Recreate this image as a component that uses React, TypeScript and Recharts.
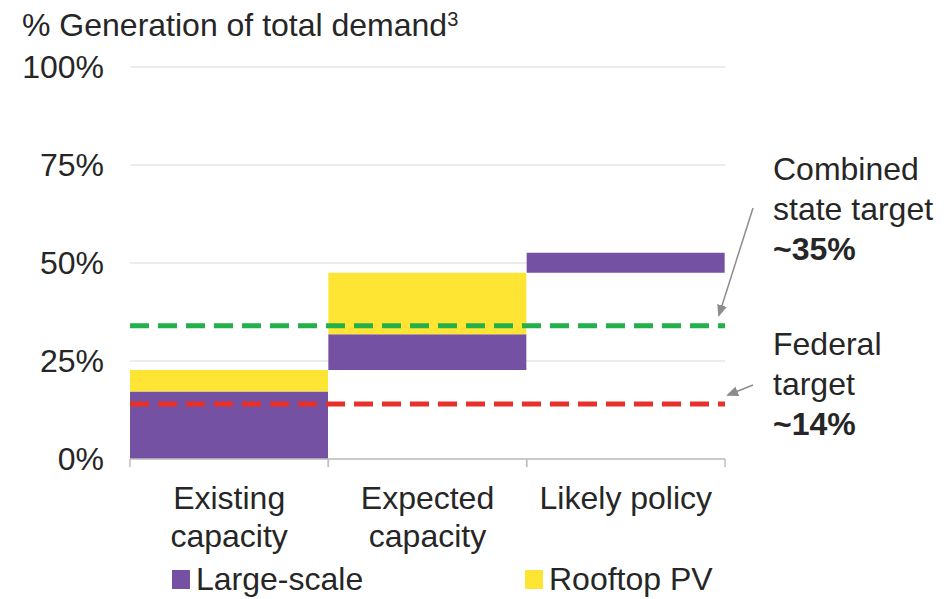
import React from "react";
import { BarChart, Bar, XAxis, YAxis, CartesianGrid, ReferenceLine, Legend } from "recharts";

const categories = ["Existing capacity", "Expected capacity", "Likely policy"];
const categoryLines = [["Existing", "capacity"], ["Expected", "capacity"], ["Likely policy"]];
const baseValues = [0, 22.7, 47.5];
const largeScale = [17.2, 9.1, 5.1];
const rooftopPV = [5.5, 15.7, 0];
const yTicks = [0, 25, 50, 75, 100];
const stateTarget = 34;
const federalTarget = 14;

const data = categories.map((c, i) => ({
  name: c,
  base: baseValues[i],
  large: largeScale[i],
  rooftop: rooftopPV[i],
}));

const FONT = "'Liberation Sans', Arial, sans-serif";
const TEXT = "#262626";
const PURPLE = "#7451a3";
const YELLOW = "#fee533";

function CategoryTick(props: any) {
  const { x, y, payload } = props;
  const half = payload.offset ?? 0;
  const idx = categories.indexOf(payload.value);
  const lines = categoryLines[idx] || [payload.value];
  return (
    <g>
      <line x1={x - half} x2={x - half} y1={y} y2={y + 8} stroke="#bfbfbf" strokeWidth={1.5} />
      <line x1={x + half} x2={x + half} y1={y} y2={y + 8} stroke="#bfbfbf" strokeWidth={1.5} />
      {lines.map((l, i) => (
        <text key={i} x={x} y={y + 50 + i * 38} textAnchor="middle" fontSize={32} fill={TEXT} fontFamily={FONT}>
          {l}
        </text>
      ))}
    </g>
  );
}

function LegendContent() {
  const item = (color: string, label: string, width: number) => (
    <div style={{ display: "flex", alignItems: "center", width }}>
      <span style={{ display: "inline-block", width: 18, height: 19, background: color, marginRight: 6 }} />
      <span style={{ fontSize: 32, color: TEXT, fontFamily: FONT, lineHeight: "40px" }}>{label}</span>
    </div>
  );
  return (
    <div style={{ display: "flex", height: 40, paddingLeft: 172 }}>
      {item(PURPLE, "Large-scale", 353)}
      {item(YELLOW, "Rooftop PV", 220)}
    </div>
  );
}

export default function App() {
  const note = { position: "absolute" as const, fontSize: 32, lineHeight: "40px", color: TEXT, fontFamily: FONT, whiteSpace: "nowrap" as const };
  return (
    <div style={{ position: "absolute", left: 0, top: 0, width: 947, height: 599, background: "#fff" }}>
      <BarChart
        width={947}
        height={599}
        data={data}
        margin={{ top: 67, right: 222, left: 10, bottom: 0 }}
        barCategoryGap={0}
      >
        <CartesianGrid vertical={false} stroke="#d9d9d9" strokeWidth={1} />
        <XAxis
          dataKey="name"
          height={100}
          tickSize={0}
          tickMargin={0}
          tickLine={false}
          axisLine={{ stroke: "#bfbfbf", strokeWidth: 1.5 }}
          tick={<CategoryTick />}
          interval={0}
        />
        <YAxis
          width={120}
          domain={[0, 100]}
          ticks={yTicks}
          tickFormatter={(v: number) => `${v}%`}
          axisLine={false}
          tickLine={false}
          tickSize={0}
          tickMargin={26}
          tick={{ fontSize: 32, fill: TEXT, fontFamily: FONT }}
        />
        <Bar dataKey="base" stackId="a" fill="transparent" isAnimationActive={false} legendType="none" />
        <Bar dataKey="large" stackId="a" fill={PURPLE} name="Large-scale" isAnimationActive={false} />
        <Bar dataKey="rooftop" stackId="a" fill={YELLOW} name="Rooftop PV" isAnimationActive={false} />
        <ReferenceLine y={stateTarget} stroke="#22b04b" strokeWidth={5} strokeDasharray="19 9" />
        <ReferenceLine y={federalTarget} stroke="#e8302a" strokeWidth={5} strokeDasharray="19 9" />
        <Legend verticalAlign="bottom" height={40} wrapperStyle={{ left: 0, width: 947 }} content={<LegendContent />} />
      </BarChart>

      <div style={{ ...note, left: 22, top: 5 }}>
        % Generation of total demand<sup style={{ fontSize: 20, verticalAlign: "top", position: "relative", top: -6 }}>3</sup>
      </div>
      <div style={{ ...note, left: 773, top: 149 }}>
        Combined<br />state target<br /><b>~35%</b>
      </div>
      <div style={{ ...note, left: 773, top: 324 }}>
        Federal<br />target<br /><b>~14%</b>
      </div>
      <svg width={947} height={599} style={{ position: "absolute", left: 0, top: 0, pointerEvents: "none" }}>
        <defs>
          <marker id="ah" markerWidth="12" markerHeight="10" refX="10" refY="5" orient="auto" markerUnits="userSpaceOnUse">
            <path d="M0,0 L12,5 L0,10 z" fill="#8c8c8c" />
          </marker>
        </defs>
        <line x1={753} y1={208} x2={719} y2={315} stroke="#8c8c8c" strokeWidth={1.5} markerEnd="url(#ah)" />
        <line x1={753} y1={385} x2={728} y2={395} stroke="#8c8c8c" strokeWidth={1.5} markerEnd="url(#ah)" />
      </svg>
    </div>
  );
}
